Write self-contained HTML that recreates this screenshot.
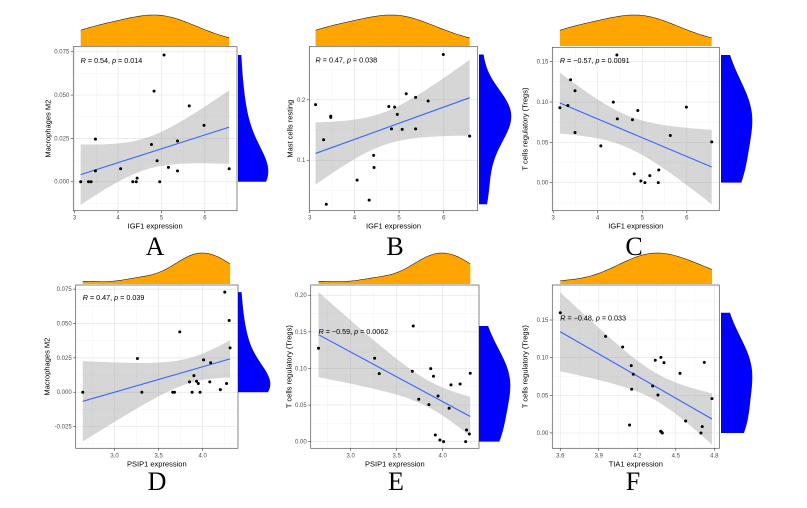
<!DOCTYPE html>
<html><head><meta charset="utf-8"><style>
html,body{margin:0;padding:0;background:#fff;}
svg{display:block;font-family:"Liberation Sans",sans-serif;}
</style></head><body>
<svg id="fig" width="807" height="508" viewBox="0 0 807 508" xmlns="http://www.w3.org/2000/svg"></svg>
<script>
// ---- data ----
const aX=[3.14,3.32,3.38,3.48,3.48,4.06,4.34,4.44,4.42,4.96,4.77,4.83,4.90,5.06,5.16,5.37,5.37,5.64,5.98,6.56];
const aY=[0,0,0,0.0246,0.0063,0.0075,0,0.0021,0,0,0.0215,0.0523,0.0121,0.0731,0.0083,0.0235,0.0063,0.0438,0.0325,0.0075];
const bX=[3.13,3.31,3.37,3.47,3.47,4.06,4.33,4.43,4.44,4.77,4.83,4.90,4.96,5.07,5.16,5.37,5.37,5.65,5.99,6.58];
const bY=[0.192,0.134,0.027,0.173,0.171,0.067,0.034,0.108,0.088,0.189,0.152,0.188,0.176,0.151,0.210,0.152,0.204,0.198,0.275,0.140];
const cX=[3.15,3.33,3.39,3.49,3.49,4.07,4.35,4.43,4.44,4.78,4.82,4.90,4.97,5.06,5.17,5.36,5.37,5.63,5.99,6.56];
const cY=[0.0928,0.0957,0.1276,0.1139,0.0621,0.0456,0.0998,0.1583,0.0791,0.0779,0.0108,0.0895,0.0021,0,0.0087,0,0.0157,0.0584,0.0936,0.0505];
const dX=[2.64,3.26,3.31,3.66,3.68,3.74,3.85,3.88,3.90,3.93,3.95,3.97,4.01,4.08,4.09,4.20,4.25,4.27,4.30,4.31];
const dY=[0,0.0245,0,0,0,0.0439,0.0075,0,0.0121,0.008,0.0063,0,0.0235,0.0075,0.0214,0.0019,0.0728,0.0063,0.0522,0.0323];
const eX=[2.65,3.26,3.31,3.67,3.68,3.74,3.85,3.87,3.90,3.92,3.95,3.97,4.01,4.07,4.09,4.19,4.25,4.26,4.29,4.30];
const eY=[0.1276,0.1139,0.0929,0.0961,0.158,0.0579,0.0506,0.0998,0.0893,0.0091,0.0624,0.0023,0,0.0456,0.0775,0.0788,0,0.0159,0.0105,0.0934];
const fX=[3.60,3.953,4.086,4.14,4.153,4.156,4.169,4.32,4.34,4.361,4.382,4.384,4.39,4.395,4.408,4.533,4.577,4.696,4.706,4.722,4.782];
const fY=[0.1597,0.1283,0.1142,0.0106,0.0894,0.058,0.0779,0.0624,0.0965,0.0504,0.0022,0.1004,0.0009,0,0.0934,0.0792,0.0159,0,0.0084,0.0938,0.0456];
const igfTicks=[3,4,5,6];
const igfTickLabels=['3','4','5','6'];
const psipTicks=[3.0,3.5,4.0];
const psipTickLabels=['3.0','3.5','4.0'];
const tiaTicks=[3.6,3.9,4.2,4.5,4.8];
const tiaTickLabels=['3.6','3.9','4.2','4.5','4.8'];
const m2Ticks=[0,0.025,0.05,0.075];
const m2TickLabels=['0.000','0.025','0.050','0.075'];
const m2dTicks=[-0.025,0,0.025,0.05,0.075];
const m2dTickLabels=['-0.025','0.000','0.025','0.050','0.075'];
const mastTicks=[0.1,0.2];
const mastTickLabels=['0.1','0.2'];
const tregTicks=[0,0.05,0.1,0.15];
const tregTickLabels=['0.00','0.05','0.10','0.15'];
const tregETicks=[0,0.05,0.1,0.15,0.2];
const tregETickLabels=['0.00','0.05','0.10','0.15','0.20'];
const stats=[['0.54','0.014'],['0.47','0.038'],['\u22120.57','0.0091'],['0.47','0.039'],['\u22120.59','0.0062'],['\u22120.48','0.033']];

const NS='http://www.w3.org/2000/svg';
const svg=document.getElementById('fig');
function mk(tag,attrs,parent){const e=document.createElementNS(NS,tag);for(const k in attrs)e.setAttribute(k,attrs[k]);(parent||svg).appendChild(e);return e;}

const panels=[
 {name:'a',box:[73.3,46.7,237,210.7],xlim:[2.97,6.74],ylim:[-0.0167,0.0779],xs:aX,ys:aY,xt:igfTicks,xl:igfTickLabels,yt:m2Ticks,yl:m2TickLabels,xtitle:'IGF1 expression',ytitle:'Macrophages M2',dt:[15,46],dr:[238,268],letter:'A',lx:155,ly:255,ytx:48},
 {name:'b',box:[309.3,46.7,477.7,210.7],xlim:[2.99,6.76],ylim:[0.0164,0.288],xs:bX,ys:bY,xt:igfTicks,xl:igfTickLabels,yt:mastTicks,yl:mastTickLabels,xtitle:'IGF1 expression',ytitle:'Mast cells resting',dt:[15,46],dr:[479,511],letter:'B',lx:395,ly:255,ytx:290},
 {name:'c',box:[552.3,47.3,719.3,210.7],xlim:[2.98,6.73],ylim:[-0.0348,0.1678],xs:cX,ys:cY,xt:igfTicks,xl:igfTickLabels,yt:tregTicks,yl:tregTickLabels,xtitle:'IGF1 expression',ytitle:'T cells regulatory (Tregs)',dt:[15,46],dr:[721,752],letter:'C',lx:634,ly:255,ytx:525},
 {name:'d',box:[75.7,285,238,448.3],xlim:[2.56,4.40],ylim:[-0.0408,0.078],xs:dX,ys:dY,xt:psipTicks,xl:psipTickLabels,yt:m2dTicks,yl:m2dTickLabels,xtitle:'PSIP1 expression',ytitle:'Macrophages M2',dt:[253,284],dr:[238,270],letter:'D',lx:157,ly:490,ytx:47},
 {name:'e',box:[310.7,285,479,448.3],xlim:[2.565,4.395],ylim:[-0.0091,0.214],xs:eX,ys:eY,xt:psipTicks,xl:psipTickLabels,yt:tregETicks,yl:tregETickLabels,xtitle:'PSIP1 expression',ytitle:'T cells regulatory (Tregs)',dt:[253,284],dr:[479,510],letter:'E',lx:396,ly:490,ytx:289},
 {name:'f',box:[552.3,285,719.3,448.3],xlim:[3.538,4.839],ylim:[-0.0204,0.1965],xs:fX,ys:fY,xt:tiaTicks,xl:tiaTickLabels,yt:tregTicks,yl:tregTickLabels,xtitle:'TIA1 expression',ytitle:'T cells regulatory (Tregs)',dt:[253,284],dr:[721,752],letter:'F',lx:633,ly:490,ytx:525}
];

function mean(a){return a.reduce((s,v)=>s+v,0)/a.length;}
function sd(a){const m=mean(a);return Math.sqrt(a.reduce((s,v)=>s+(v-m)*(v-m),0)/(a.length-1));}
function quant(a,q){const s=[...a].sort((x,y)=>x-y);const h=(s.length-1)*q;const l=Math.floor(h);return s[l]+(h-l)*((s[l+1]??s[l])-s[l]);}
function bw(a){const iqr=(quant(a,0.75)-quant(a,0.25))/1.34;let lo=Math.min(sd(a),iqr);if(!(lo>0))lo=sd(a)||1;return 1.5*0.9*lo*Math.pow(a.length,-0.2);}
function kde(a,t,h){let s=0;for(const v of a){const z=(t-v)/h;s+=Math.exp(-0.5*z*z);}return s/(a.length*h*Math.sqrt(2*Math.PI));}

panels.forEach((P,pi)=>{
 const [L,T,R,B]=P.box;
 const g=mk('g',{});
 
 
 const sx=v=>L+(v-P.xlim[0])/(P.xlim[1]-P.xlim[0])*(R-L);
 const sy=v=>B-(v-P.ylim[0])/(P.ylim[1]-P.ylim[0])*(B-T);
 const bg=mk('rect',{x:L,y:T,width:R-L,height:B-T,fill:'#fff'},g);
 
 const minorX=[],minorY=[];
 const dx=P.xt[1]-P.xt[0],dy=P.yt[1]-P.yt[0];
 for(let v=P.xt[0]-dx/2;v<=P.xlim[1];v+=dx)if(v>=P.xlim[0])minorX.push(v);
 for(let v=P.yt[0]-dy/2;v<=P.ylim[1];v+=dy)if(v>=P.ylim[0])minorY.push(v);
 minorX.forEach(v=>{const l=mk('line',{x1:sx(v),x2:sx(v),y1:T,y2:B,stroke:'#f3f3f3','stroke-width':0.5},g);});
 minorY.forEach(v=>{const l=mk('line',{x1:L,x2:R,y1:sy(v),y2:sy(v),stroke:'#f3f3f3','stroke-width':0.5},g);});
 P.xt.forEach((v,i)=>{
  const l=mk('line',{x1:sx(v),x2:sx(v),y1:T,y2:B,stroke:'#e6e6e6','stroke-width':0.7},g);
  const tk=mk('line',{x1:sx(v),x2:sx(v),y1:B,y2:B+2.5,stroke:'#333','stroke-width':0.6},g);
  const t=mk('text',{x:sx(v),y:B+9,'font-size':6,fill:'#4d4d4d','text-anchor':'middle'},g);t.textContent=P.xl[i];
 });
 P.yt.forEach((v,i)=>{
  const l=mk('line',{x1:L,x2:R,y1:sy(v),y2:sy(v),stroke:'#e6e6e6','stroke-width':0.7},g);
  const tk=mk('line',{x1:L-2.5,x2:L,y1:sy(v),y2:sy(v),stroke:'#333','stroke-width':0.6},g);
  const t=mk('text',{x:L-4,y:sy(v)+2,'font-size':6,fill:'#4d4d4d','text-anchor':'end'},g);t.textContent=P.yl[i];
 });
 const n=P.xs.length,mx=mean(P.xs),my=mean(P.ys);
 let sxx=0,sxy=0;for(let i=0;i<n;i++){sxx+=(P.xs[i]-mx)**2;sxy+=(P.xs[i]-mx)*(P.ys[i]-my);}
 const b1=sxy/sxx,b0=my-b1*mx;
 let sse=0;for(let i=0;i<n;i++)sse+=(P.ys[i]-b0-b1*P.xs[i])**2;
 const s=Math.sqrt(sse/(n-2)),tq=2.1;
 const x0=Math.min(...P.xs),x1=Math.max(...P.xs);
 const up=[],lo=[];
 for(let k=0;k<=60;k++){const x=x0+(x1-x0)*k/60;const f=b0+b1*x;const w=tq*s*Math.sqrt(1/n+(x-mx)**2/sxx);up.push(sx(x).toFixed(2)+','+sy(f+w).toFixed(2));lo.push(sx(x).toFixed(2)+','+sy(f-w).toFixed(2));}
 const clip=mk('clipPath',{id:'clip'+P.name},g);mk('rect',{x:L,y:T,width:R-L,height:B-T},clip);
 const band=mk('polygon',{points:up.concat(lo.reverse()).join(' '),fill:'#999',opacity:0.4,'clip-path':'url(#clip'+P.name+')'},g);
 
 const fl=mk('line',{x1:sx(x0),y1:sy(b0+b1*x0),x2:sx(x1),y2:sy(b0+b1*x1),stroke:'#3366ff','stroke-width':1.1},g);
 
 for(let i=0;i<n;i++){const c=mk('circle',{cx:sx(P.xs[i]),cy:sy(P.ys[i]),r:1.5,fill:'#000'},g);}
 const bd=mk('rect',{x:L,y:T,width:R-L,height:B-T,fill:'none',stroke:'#555','stroke-width':0.7},g);
 
 const an=mk('text',{x:sx(x0),y:sy(Math.max(...P.ys))+8,'font-size':7.2,fill:'#000'},g);
 
 an.innerHTML='<tspan font-style="italic">R</tspan> = '+stats[pi][0]+', <tspan font-style="italic">p</tspan> = '+stats[pi][1];
 const xt=mk('text',{x:(L+R)/2,y:B+18,'font-size':7.5,fill:'#000','text-anchor':'middle'},g);xt.textContent=P.xtitle;
 const yt=mk('text',{x:0,y:0,'font-size':7.5,fill:'#000','text-anchor':'middle',transform:'translate('+(P.ytx+2.5)+','+((T+B)/2)+') rotate(-90)'},g);yt.textContent=P.ytitle;
 const hx=bw(P.xs);const dxs=[];let mxd=0;
 for(let k=0;k<=80;k++){const x=x0+(x1-x0)*k/80;const d=kde(P.xs,x,hx);dxs.push([x,d]);mxd=Math.max(mxd,d);}
 const [tt,tb]=P.dt;
 const tpts=dxs.map(([x,d])=>sx(x).toFixed(2)+','+(tb-d/mxd*(tb-tt)).toFixed(2));
 const tf=mk('polygon',{points:sx(x0)+','+tb+' '+tpts.join(' ')+' '+sx(x1)+','+tb,fill:'#ffa500'},g);
 const to=mk('polyline',{points:tpts.join(' '),fill:'none',stroke:'#222','stroke-width':0.6},g);
 const y0=Math.min(...P.ys),y1=Math.max(...P.ys),hy=bw(P.ys);const dys=[];let myd=0;
 for(let k=0;k<=80;k++){const y=y0+(y1-y0)*k/80;const d=kde(P.ys,y,hy);dys.push([y,d]);myd=Math.max(myd,d);}
 const [rl,rr]=P.dr;
 const rpts=dys.map(([y,d])=>(rl+d/myd*(rr-rl)).toFixed(2)+','+sy(y).toFixed(2));
 const rf=mk('polygon',{points:rl+','+sy(y0)+' '+rpts.join(' ')+' '+rl+','+sy(y1),fill:'#0000ff'},g);
 const ro=mk('polyline',{points:rpts.join(' '),fill:'none',stroke:'#222','stroke-width':0.6},g);
 const lt=mk('text',{x:P.lx,y:P.ly,'font-size':26,fill:'#000','text-anchor':'middle','font-family':'Liberation Serif, serif'},g);lt.textContent=P.letter;
});
</script>
</body></html>
